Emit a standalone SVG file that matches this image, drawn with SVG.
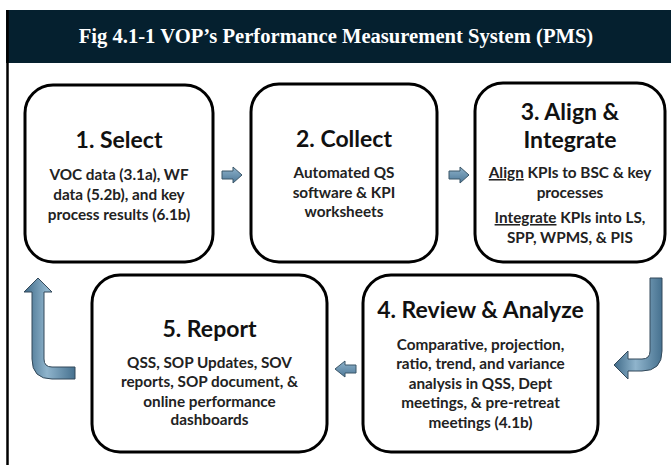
<svg xmlns="http://www.w3.org/2000/svg" width="671" height="465" viewBox="0 0 671 465">
<defs>
<linearGradient id="gh" x1="0" y1="0" x2="0" y2="1">
<stop offset="0" stop-color="#a9c7da"/><stop offset="0.5" stop-color="#5f8dab"/><stop offset="1" stop-color="#3f6a88"/>
</linearGradient>
<linearGradient id="gv" x1="0" y1="0" x2="1" y2="0">
<stop offset="0" stop-color="#3f6a88"/><stop offset="0.45" stop-color="#8fb4cc"/><stop offset="1" stop-color="#46718f"/>
</linearGradient>
<linearGradient id="gs" x1="0" y1="0" x2="0" y2="1">
<stop offset="0" stop-color="#8fb3cb"/><stop offset="1" stop-color="#4d7898"/>
</linearGradient>
</defs>
<style>
.box{fill:#fff;stroke:#000;stroke-width:3}
.ttl{font-family:Lato,"Liberation Sans",sans-serif;font-weight:bold;font-size:23px;fill:#111;text-anchor:middle}
.bd{font-family:Lato,"Liberation Sans",sans-serif;font-weight:bold;font-size:15.3px;fill:#222;text-anchor:middle}
.sa{fill:url(#gs);stroke:#3b5668;stroke-width:1}
.ba{stroke:#33495a;stroke-width:1}
</style>
<rect x="0" y="0" width="671" height="465" fill="#fff"/>
<g id="header">
<rect x="6" y="10" width="665" height="53" fill="#05202f"/>
<text x="336" y="43" font-family="Liberation Serif,serif" font-weight="bold" font-size="20.6" fill="#fff" text-anchor="middle">Fig 4.1-1 VOP’s Performance Measurement System (PMS)</text>
</g>
<line x1="7.5" y1="10" x2="7.5" y2="465" stroke="#000" stroke-width="2.5"/>
<g id="n1">
<rect class="box" x="25" y="85" width="188" height="177" rx="28"/>
<text class="ttl" x="119" y="148">1. Select</text>
<text class="bd" x="119" y="180">VOC data (3.1a), WF</text>
<text class="bd" x="119" y="200">data (5.2b), and key</text>
<text class="bd" x="119" y="220">process results (6.1b)</text>
</g>
<g id="n2">
<rect class="box" x="251" y="84" width="186" height="178" rx="28"/>
<text class="ttl" x="344" y="147">2. Collect</text>
<text class="bd" x="344" y="178">Automated QS</text>
<text class="bd" x="344" y="198">software &amp; KPI</text>
<text class="bd" x="344" y="217">worksheets</text>
</g>
<g id="n3">
<rect class="box" x="475" y="83" width="190" height="179" rx="28"/>
<text class="ttl" x="570" y="120">3. Align &amp;</text>
<text class="ttl" x="570" y="148">Integrate</text>
<text class="bd" x="570" y="178"><tspan text-decoration="underline">Align</tspan> KPIs to BSC &amp; key</text>
<text class="bd" x="570" y="198">processes</text>
<text class="bd" x="570" y="223"><tspan text-decoration="underline">Integrate</tspan> KPIs into LS,</text>
<text class="bd" x="570" y="243">SPP, WPMS, &amp; PIS</text>
</g>
<g id="n4">
<rect class="box" x="363" y="275" width="235" height="177" rx="28"/>
<text class="ttl" x="480.5" y="318">4. Review &amp; Analyze</text>
<text class="bd" x="480.5" y="350">Comparative, projection,</text>
<text class="bd" x="480.5" y="369">ratio, trend, and variance</text>
<text class="bd" x="480.5" y="389">analysis in QSS, Dept</text>
<text class="bd" x="480.5" y="408">meetings, &amp;  pre-retreat</text>
<text class="bd" x="480.5" y="428">meetings (4.1b)</text>
</g>
<g id="n5">
<rect class="box" x="92" y="275" width="235" height="177" rx="28"/>
<text class="ttl" x="209.5" y="337">5. Report</text>
<text class="bd" x="209.5" y="368">QSS, SOP Updates, SOV</text>
<text class="bd" x="209.5" y="387">reports, SOP document, &amp;</text>
<text class="bd" x="209.5" y="407">online performance</text>
<text class="bd" x="209.5" y="425">dashboards</text>
</g>
<g id="connectors">
<path class="sa" d="M222 171 L233 171 L233 167 L242 175 L233 183 L233 179 L222 179 Z"/>
<path class="sa" d="M449 171 L460 171 L460 167 L469 175 L460 183 L460 179 L449 179 Z"/>
<path class="sa" d="M356 365 L345 365 L345 361 L335 369 L345 377 L345 373 L356 373 Z"/>
<path class="ba" fill="url(#gv)" d="M650 278 L662 278 L662 351 Q662 371 642 371 L628 371 L628 379 L614 365 L628 351 L628 359 L642 359 Q650 359 650 351 Z"/>
<path class="ba" fill="url(#gv)" d="M38 278 L52 292 L44 292 L44 359 Q44 367 52 367 L75 367 L75 379 L52 379 Q32 379 32 359 L32 292 L24 292 Z"/>
</g>
</svg>
